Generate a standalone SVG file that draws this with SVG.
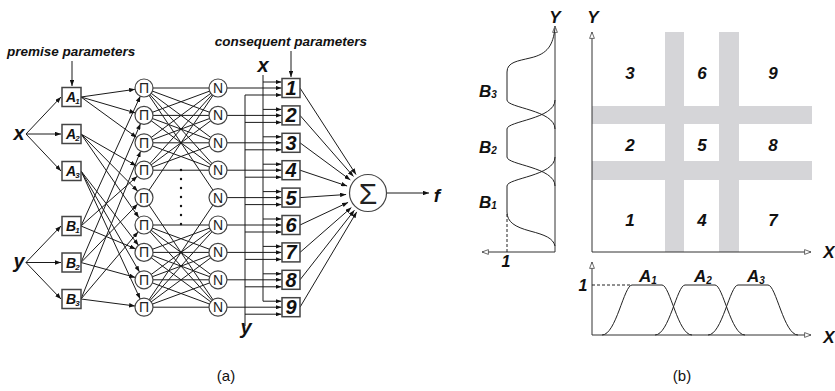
<svg xmlns="http://www.w3.org/2000/svg" width="835" height="391" viewBox="0 0 835 391">
<style>
.ar{stroke:#1a1a1a;stroke-width:1;fill:none;marker-end:url(#ah)}
.pl{stroke:#1a1a1a;stroke-width:1;fill:none}
.box{fill:#fff;stroke:#444;stroke-width:1.5}
.nd{fill:#fff;stroke:#444;stroke-width:1.2}
.lb{font-family:"Liberation Sans",Arial,sans-serif;font-weight:bold;font-style:italic;fill:#111}
.sy{font-family:"Liberation Sans",Arial,sans-serif;fill:#222;text-anchor:middle}
.axa{stroke:#333;stroke-width:1;fill:none;marker-end:url(#oa)}
.mf{stroke:#222;stroke-width:1;fill:none}
.dash{stroke:#222;stroke-width:1;stroke-dasharray:3,2;fill:none}
.bar{fill:#d5d5d8}
.cap{font-family:"Liberation Sans",Arial,sans-serif;font-size:15px;fill:#111;text-anchor:middle}
</style>
<defs>
<marker id="ah" viewBox="0 0 8 6" refX="8" refY="3" markerWidth="6" markerHeight="4.5" orient="auto" markerUnits="userSpaceOnUse"><path d="M0,0L8,3L0,6z" fill="#111"/></marker>
<marker id="oa" viewBox="0 0 10 8" refX="9" refY="4" markerWidth="8" markerHeight="6.4" orient="auto" markerUnits="userSpaceOnUse"><path d="M1,1L9,4L1,7z" fill="#fff" stroke="#444" stroke-width="1"/></marker>
</defs>
<rect width="835" height="391" fill="#fff"/>

<!-- (a) labels -->
<text class="lb" x="7" y="56" font-size="13.5">premise parameters</text>
<text class="lb" x="367" y="46" font-size="13.5" text-anchor="end">consequent parameters</text>
<text class="lb" x="19" y="140" font-size="20" text-anchor="middle">x</text>
<text class="lb" x="19" y="268" font-size="20" text-anchor="middle">y</text>
<text class="lb" x="263" y="72" font-size="20" text-anchor="middle">x</text>
<text class="lb" x="246" y="334" font-size="20" text-anchor="middle">y</text>
<text class="lb" x="437" y="202" font-size="19" text-anchor="middle">f</text>

<g id="connectors">
<line class="ar" x1="72" y1="61" x2="72" y2="86"/>
<line class="ar" x1="291" y1="51" x2="291" y2="77"/>
<line class="ar" x1="26" y1="134" x2="61" y2="97"/>
<line class="ar" x1="26" y1="134" x2="61" y2="134"/>
<line class="ar" x1="26" y1="134" x2="61" y2="171"/>
<line class="ar" x1="26" y1="262.5" x2="61" y2="226"/>
<line class="ar" x1="26" y1="262.5" x2="61" y2="262.5"/>
<line class="ar" x1="26" y1="262.5" x2="61" y2="299"/>
<line class="ar" x1="81" y1="97" x2="135.1" y2="89.3"/>
<line class="ar" x1="81" y1="97" x2="135.4" y2="112.9"/>
<line class="ar" x1="81" y1="97" x2="136.7" y2="137.5"/>
<line class="ar" x1="81" y1="134" x2="136.2" y2="165.7"/>
<line class="ar" x1="81" y1="134" x2="137.7" y2="191.2"/>
<line class="ar" x1="81" y1="134" x2="138.9" y2="217.6"/>
<line class="ar" x1="81" y1="171" x2="138.5" y2="245.3"/>
<line class="ar" x1="81" y1="171" x2="139.5" y2="272"/>
<line class="ar" x1="81" y1="171" x2="140.2" y2="299"/>
<line class="ar" x1="81" y1="226" x2="140.3" y2="96.2"/>
<line class="ar" x1="81" y1="226" x2="137.3" y2="176.2"/>
<line class="ar" x1="81" y1="226" x2="135.7" y2="248.9"/>
<line class="ar" x1="81" y1="262.5" x2="140.5" y2="123.7"/>
<line class="ar" x1="81" y1="262.5" x2="137.7" y2="204.1"/>
<line class="ar" x1="81" y1="262.5" x2="135.3" y2="277.4"/>
<line class="ar" x1="81" y1="299" x2="140.6" y2="151.2"/>
<line class="ar" x1="81" y1="299" x2="138.2" y2="231.8"/>
<line class="ar" x1="81" y1="299" x2="135.1" y2="306"/>
<path class="pl" d="M144,88L218,88M144,88L218,115.4M144,88L218,142.8M144,88L218,170.2M144,115.4L218,88M144,115.4L218,115.4M144,115.4L218,142.8M144,115.4L218,170.2M144,142.8L218,88M144,142.8L218,115.4M144,142.8L218,142.8M144,142.8L218,170.2M144,170.2L218,88M144,170.2L218,115.4M144,170.2L218,142.8M144,170.2L218,170.2M144,225L218,225M144,225L218,252.4M144,225L218,279.8M144,225L218,307.2M144,252.4L218,225M144,252.4L218,252.4M144,252.4L218,279.8M144,252.4L218,307.2M144,279.8L218,225M144,279.8L218,252.4M144,279.8L218,279.8M144,279.8L218,307.2M144,307.2L218,225M144,307.2L218,252.4M144,307.2L218,279.8M144,307.2L218,307.2M144,197.6L218,88M144,197.6L218,307.2M144,88L218,197.6M144,307.2L218,197.6"/>
<path class="ar" d="M263,75L263,301.2L281.5,301.2"/>
<path class="ar" d="M245,326L245,95L281.5,95"/>
<line class="ar" x1="263" y1="82" x2="281.5" y2="82"/>
<line class="ar" x1="263" y1="109.4" x2="281.5" y2="109.4"/>
<line class="ar" x1="263" y1="136.8" x2="281.5" y2="136.8"/>
<line class="ar" x1="263" y1="164.2" x2="281.5" y2="164.2"/>
<line class="ar" x1="263" y1="191.6" x2="281.5" y2="191.6"/>
<line class="ar" x1="263" y1="219" x2="281.5" y2="219"/>
<line class="ar" x1="263" y1="246.4" x2="281.5" y2="246.4"/>
<line class="ar" x1="263" y1="273.8" x2="281.5" y2="273.8"/>
<line class="ar" x1="245" y1="122.4" x2="281.5" y2="122.4"/>
<line class="ar" x1="245" y1="149.8" x2="281.5" y2="149.8"/>
<line class="ar" x1="245" y1="177.2" x2="281.5" y2="177.2"/>
<line class="ar" x1="245" y1="204.6" x2="281.5" y2="204.6"/>
<line class="ar" x1="245" y1="232" x2="281.5" y2="232"/>
<line class="ar" x1="245" y1="259.4" x2="281.5" y2="259.4"/>
<line class="ar" x1="245" y1="286.8" x2="281.5" y2="286.8"/>
<line class="ar" x1="245" y1="314.2" x2="281.5" y2="314.2"/>
<line class="ar" x1="227" y1="88" x2="281.5" y2="88"/>
<line class="ar" x1="227" y1="115.4" x2="281.5" y2="115.4"/>
<line class="ar" x1="227" y1="142.8" x2="281.5" y2="142.8"/>
<line class="ar" x1="227" y1="170.2" x2="281.5" y2="170.2"/>
<line class="ar" x1="227" y1="197.6" x2="281.5" y2="197.6"/>
<line class="ar" x1="227" y1="225" x2="281.5" y2="225"/>
<line class="ar" x1="227" y1="252.4" x2="281.5" y2="252.4"/>
<line class="ar" x1="227" y1="279.8" x2="281.5" y2="279.8"/>
<line class="ar" x1="227" y1="307.2" x2="281.5" y2="307.2"/>
<line class="ar" x1="300" y1="88" x2="356" y2="174.5"/>
<line class="ar" x1="300" y1="115.4" x2="353.5" y2="176.5"/>
<line class="ar" x1="300" y1="142.8" x2="350.3" y2="179.9"/>
<line class="ar" x1="300" y1="170.2" x2="347.1" y2="186"/>
<line class="ar" x1="300" y1="197.6" x2="346.1" y2="194.5"/>
<line class="ar" x1="300" y1="225" x2="348.1" y2="202.4"/>
<line class="ar" x1="300" y1="252.4" x2="351.4" y2="207.5"/>
<line class="ar" x1="300" y1="279.8" x2="354.4" y2="210.3"/>
<line class="ar" x1="300" y1="307.2" x2="356.7" y2="211.9"/>
<line class="ar" x1="386.5" y1="193" x2="429" y2="193"/>
</g>

<!-- premise nodes -->
<g id="A1"><rect class="box" x="62" y="87.5" width="19" height="19"/><text class="lb" x="66" y="102" font-size="14">A<tspan font-size="8" dx="-1" dy="2">1</tspan></text></g>
<g id="A2"><rect class="box" x="62" y="124.5" width="19" height="19"/><text class="lb" x="66" y="139" font-size="14">A<tspan font-size="8" dx="-1" dy="2">2</tspan></text></g>
<g id="A3"><rect class="box" x="62" y="161.5" width="19" height="19"/><text class="lb" x="66" y="176" font-size="14">A<tspan font-size="8" dx="-1" dy="2">3</tspan></text></g>
<g id="B1"><rect class="box" x="62" y="216.5" width="19" height="19"/><text class="lb" x="66" y="231" font-size="14">B<tspan font-size="8" dx="-1" dy="2">1</tspan></text></g>
<g id="B2"><rect class="box" x="62" y="253" width="19" height="19"/><text class="lb" x="66" y="267.5" font-size="14">B<tspan font-size="8" dx="-1" dy="2">2</tspan></text></g>
<g id="B3"><rect class="box" x="62" y="289.5" width="19" height="19"/><text class="lb" x="66" y="304" font-size="14">B<tspan font-size="8" dx="-1" dy="2">3</tspan></text></g>

<!-- product nodes -->
<g id="P1"><circle class="nd" cx="144" cy="88" r="9"/><text class="sy" x="144" y="93" font-size="14">Π</text></g>
<g id="P2"><circle class="nd" cx="144" cy="115.4" r="9"/><text class="sy" x="144" y="120.4" font-size="14">Π</text></g>
<g id="P3"><circle class="nd" cx="144" cy="142.8" r="9"/><text class="sy" x="144" y="147.8" font-size="14">Π</text></g>
<g id="P4"><circle class="nd" cx="144" cy="170.2" r="9"/><text class="sy" x="144" y="175.2" font-size="14">Π</text></g>
<g id="P5"><circle class="nd" cx="144" cy="197.6" r="9"/><text class="sy" x="144" y="202.6" font-size="14">Π</text></g>
<g id="P6"><circle class="nd" cx="144" cy="225" r="9"/><text class="sy" x="144" y="230" font-size="14">Π</text></g>
<g id="P7"><circle class="nd" cx="144" cy="252.4" r="9"/><text class="sy" x="144" y="257.4" font-size="14">Π</text></g>
<g id="P8"><circle class="nd" cx="144" cy="279.8" r="9"/><text class="sy" x="144" y="284.8" font-size="14">Π</text></g>
<g id="P9"><circle class="nd" cx="144" cy="307.2" r="9"/><text class="sy" x="144" y="312.2" font-size="14">Π</text></g>

<g id="dots" fill="#111"><circle cx="181" cy="170" r="1.2"/><circle cx="181" cy="179" r="1.2"/><circle cx="181" cy="188" r="1.2"/><circle cx="181" cy="197" r="1.2"/><circle cx="181" cy="206" r="1.2"/><circle cx="181" cy="215" r="1.2"/><circle cx="181" cy="224" r="1.2"/></g>

<!-- normalization nodes -->
<g id="N1"><circle class="nd" cx="218" cy="88" r="9"/><text class="sy" x="218" y="93" font-size="14">N</text></g>
<g id="N2"><circle class="nd" cx="218" cy="115.4" r="9"/><text class="sy" x="218" y="120.4" font-size="14">N</text></g>
<g id="N3"><circle class="nd" cx="218" cy="142.8" r="9"/><text class="sy" x="218" y="147.8" font-size="14">N</text></g>
<g id="N4"><circle class="nd" cx="218" cy="170.2" r="9"/><text class="sy" x="218" y="175.2" font-size="14">N</text></g>
<g id="N5"><circle class="nd" cx="218" cy="197.6" r="9"/><text class="sy" x="218" y="202.6" font-size="14">N</text></g>
<g id="N6"><circle class="nd" cx="218" cy="225" r="9"/><text class="sy" x="218" y="230" font-size="14">N</text></g>
<g id="N7"><circle class="nd" cx="218" cy="252.4" r="9"/><text class="sy" x="218" y="257.4" font-size="14">N</text></g>
<g id="N8"><circle class="nd" cx="218" cy="279.8" r="9"/><text class="sy" x="218" y="284.8" font-size="14">N</text></g>
<g id="N9"><circle class="nd" cx="218" cy="307.2" r="9"/><text class="sy" x="218" y="312.2" font-size="14">N</text></g>

<!-- consequent nodes -->
<g id="R1"><rect class="box" x="282" y="78.5" width="18" height="19"/><text class="lb" x="291" y="95" font-size="20" text-anchor="middle">1</text></g>
<g id="R2"><rect class="box" x="282" y="105.9" width="18" height="19"/><text class="lb" x="291" y="122.4" font-size="20" text-anchor="middle">2</text></g>
<g id="R3"><rect class="box" x="282" y="133.3" width="18" height="19"/><text class="lb" x="291" y="149.8" font-size="20" text-anchor="middle">3</text></g>
<g id="R4"><rect class="box" x="282" y="160.7" width="18" height="19"/><text class="lb" x="291" y="177.2" font-size="20" text-anchor="middle">4</text></g>
<g id="R5"><rect class="box" x="282" y="188.1" width="18" height="19"/><text class="lb" x="291" y="204.6" font-size="20" text-anchor="middle">5</text></g>
<g id="R6"><rect class="box" x="282" y="215.5" width="18" height="19"/><text class="lb" x="291" y="232" font-size="20" text-anchor="middle">6</text></g>
<g id="R7"><rect class="box" x="282" y="242.9" width="18" height="19"/><text class="lb" x="291" y="259.4" font-size="20" text-anchor="middle">7</text></g>
<g id="R8"><rect class="box" x="282" y="270.3" width="18" height="19"/><text class="lb" x="291" y="286.8" font-size="20" text-anchor="middle">8</text></g>
<g id="R9"><rect class="box" x="282" y="297.7" width="18" height="19"/><text class="lb" x="291" y="314.2" font-size="20" text-anchor="middle">9</text></g>

<!-- sum node -->
<g id="S"><circle class="nd" cx="368" cy="193" r="18.5"/><text class="sy" x="368" y="204" font-size="30">Σ</text></g>

<text class="cap" x="226" y="381">(a)</text>

<!-- (b) left: B membership functions -->
<line class="axa" x1="555" y1="252" x2="555" y2="26"/>
<line class="axa" x1="555" y1="252" x2="482" y2="252"/>
<path class="dash" d="M507,252L507,212"/>
<path class="mf" d="M555,28C553,45 548,54 530,58C518,61 507,62 507,72L507,100C507,108 555,110 555,129"/>
<path class="mf" d="M555,100C555,119 507,121 507,129L507,157C507,165 555,167 555,186"/>
<path class="mf" d="M555,157C555,176 507,178 507,186L507,212C507,222 515,227 530,231C545,235 553,238 555,246"/>
<text class="lb" x="555" y="23" font-size="17" text-anchor="middle">Y</text>
<text class="lb" x="506" y="267" font-size="16" text-anchor="middle">1</text>
<text class="lb" x="479" y="97" font-size="17">B<tspan font-size="10" dx="0" dy="1">3</tspan></text>
<text class="lb" x="479" y="153" font-size="17">B<tspan font-size="10" dx="0" dy="1">2</tspan></text>
<text class="lb" x="479" y="208" font-size="17">B<tspan font-size="10" dx="0" dy="1">1</tspan></text>

<!-- (b) grid -->
<rect class="bar" x="665" y="32" width="19" height="220"/>
<rect class="bar" x="719" y="32" width="20" height="220"/>
<rect class="bar" x="592" y="106" width="220" height="18"/>
<rect class="bar" x="592" y="161" width="220" height="19"/>
<line class="axa" x1="592" y1="252" x2="592" y2="32"/>
<line class="axa" x1="592" y1="252" x2="811" y2="252"/>
<text class="lb" x="593" y="23" font-size="17" text-anchor="middle">Y</text>
<text class="lb" x="829" y="258" font-size="17" text-anchor="middle">X</text>
<g class="lb" font-size="17" text-anchor="middle">
<text x="630" y="79">3</text><text x="702" y="79">6</text><text x="773" y="79">9</text>
<text x="630" y="151">2</text><text x="702" y="151">5</text><text x="773" y="151">8</text>
<text x="630" y="226">1</text><text x="702" y="226">4</text><text x="773" y="226">7</text>
</g>

<!-- (b) bottom: A membership functions -->
<line class="axa" x1="592" y1="335" x2="592" y2="262"/>
<line class="axa" x1="592" y1="335" x2="811" y2="335"/>
<path class="dash" d="M592,285L632,285"/>
<path class="mf" d="M602,335C616,335 624,285 632,285L662,285C670,285 678,335 692,335"/>
<path class="mf" d="M655,335C669,335 677,285 685,285L715,285C723,285 731,335 745,335"/>
<path class="mf" d="M708,335C722,335 730,285 738,285L768,285C776,285 784,335 798,335"/>
<text class="lb" x="583" y="291" font-size="16" text-anchor="middle">1</text>
<text class="lb" x="829" y="343" font-size="17" text-anchor="middle">X</text>
<text class="lb" x="639" y="282" font-size="17">A<tspan font-size="10" dx="0" dy="2">1</tspan></text>
<text class="lb" x="694" y="282" font-size="17">A<tspan font-size="10" dx="0" dy="2">2</tspan></text>
<text class="lb" x="747" y="282" font-size="17">A<tspan font-size="10" dx="0" dy="2">3</tspan></text>

<text class="cap" x="682" y="381">(b)</text>
</svg>
